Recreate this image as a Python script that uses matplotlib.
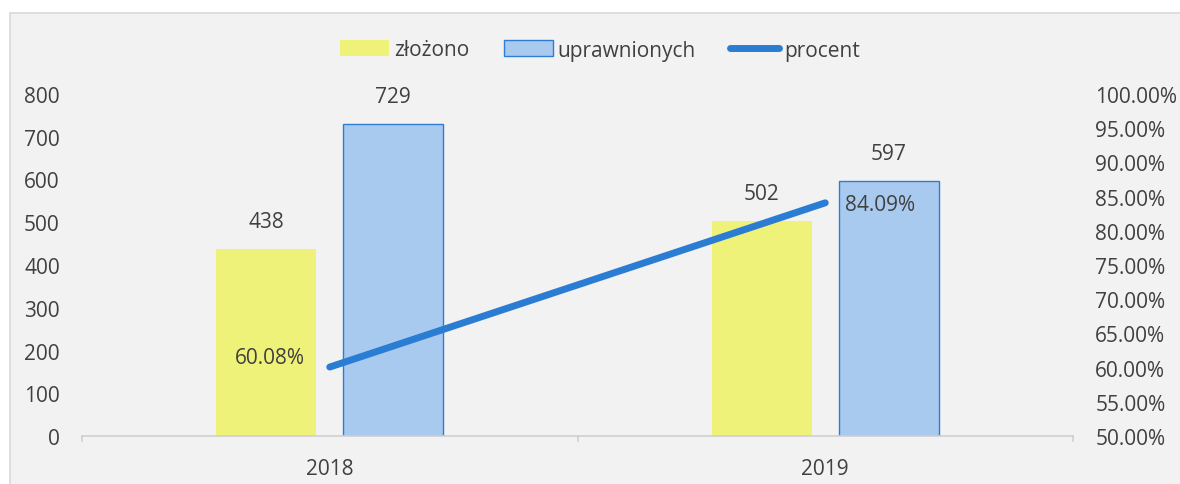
import numpy as np
import matplotlib.pyplot as plt
from matplotlib.patches import Rectangle
from matplotlib.ticker import FuncFormatter

years = ['2018', '2019']
zlozono = [438, 502]
uprawnionych = [729, 597]
procent = [60.08, 84.09]

W, H = 1180, 485
fig = plt.figure(figsize=(W / 100, H / 100), dpi=100)
fig.patch.set_facecolor('white')
plt.rcParams['font.family'] = ['Open Sans', 'DejaVu Sans']
fs = 15
txt = '#404040'

# chart area background with border (cut at right/bottom)
fig.patches.append(Rectangle((10 / W, -0.05), 1.1, (H - 14) / H + 0.05,
                             transform=fig.transFigure, facecolor='#f2f2f2',
                             edgecolor='#d9d9d9', linewidth=1.2, zorder=-10))

ax = fig.add_axes([82 / W, (H - 437) / H, (1073 - 82) / W, (437 - 95) / H])
ax.set_facecolor('none')
ax2 = ax.twinx()

x = np.arange(len(years))
bw = 0.202
off = 0.128

b1 = ax.bar(x - off, zlozono, bw, color='#eff278', label='złożono', zorder=2)
b2 = ax.bar(x + off, uprawnionych, bw, color='#a9caef', edgecolor='#2e7dd2',
            linewidth=1, label='uprawnionych', zorder=2)
for xi, v in zip(x - off, zlozono):
    ax.text(xi, v + 40, str(v), ha='center', va='bottom', fontsize=fs, color=txt)
for xi, v in zip(x + off, uprawnionych):
    ax.text(xi, v + 40, str(v), ha='center', va='bottom', fontsize=fs, color=txt)

ax.set_xlim(-0.5, 1.5)
ax.set_ylim(0, 800)
ax.set_yticks(range(0, 801, 100))
ax.set_xticks(x)
ax.set_xticklabels(years)
ax.tick_params(axis='y', length=0, labelsize=fs, labelcolor=txt, pad=16)
ax.tick_params(axis='x', length=0, labelsize=fs, labelcolor=txt, pad=16)
for s in ['top', 'right', 'left']:
    ax.spines[s].set_visible(False)
ax.spines['bottom'].set_color('#d0d0d0')
ax.spines['bottom'].set_linewidth(1.2)
for xb in [-0.5, 0.5, 1.5]:
    ax.plot([xb, xb], [0, -12], color='#d0d0d0', lw=1.2, clip_on=False, zorder=1)

ln, = ax2.plot(x, procent, color='#2b7cd3', lw=5, solid_capstyle='round',
               label='procent', zorder=3)
ax2.text(x[0] - 0.05, procent[0] + 1.4, f'{procent[0]:.2f}%', ha='right',
         va='center', fontsize=fs, color=txt)
ax2.text(x[1] + 0.04, procent[1] - 0.3, f'{procent[1]:.2f}%', ha='left',
         va='center', fontsize=fs, color=txt)
ax2.set_ylim(50, 100)
ax2.set_yticks(np.arange(50, 100.1, 5))
ax2.yaxis.set_major_formatter(FuncFormatter(lambda v, p: f'{v:.2f}%'))
ax2.tick_params(axis='y', length=0, labelsize=fs, labelcolor=txt, pad=16)
for s in ax2.spines.values():
    s.set_visible(False)

leg = fig.legend([b1, b2, ln], ['złożono', 'uprawnionych', 'procent'],
                 loc='center', bbox_to_anchor=(600 / W, (H - 51) / H), ncol=3,
                 frameon=False, fontsize=fs, handlelength=2.35, handleheight=0.8,
                 columnspacing=1.65, handletextpad=0.25, labelcolor=txt)

fig.savefig('out.png', dpi=100)
